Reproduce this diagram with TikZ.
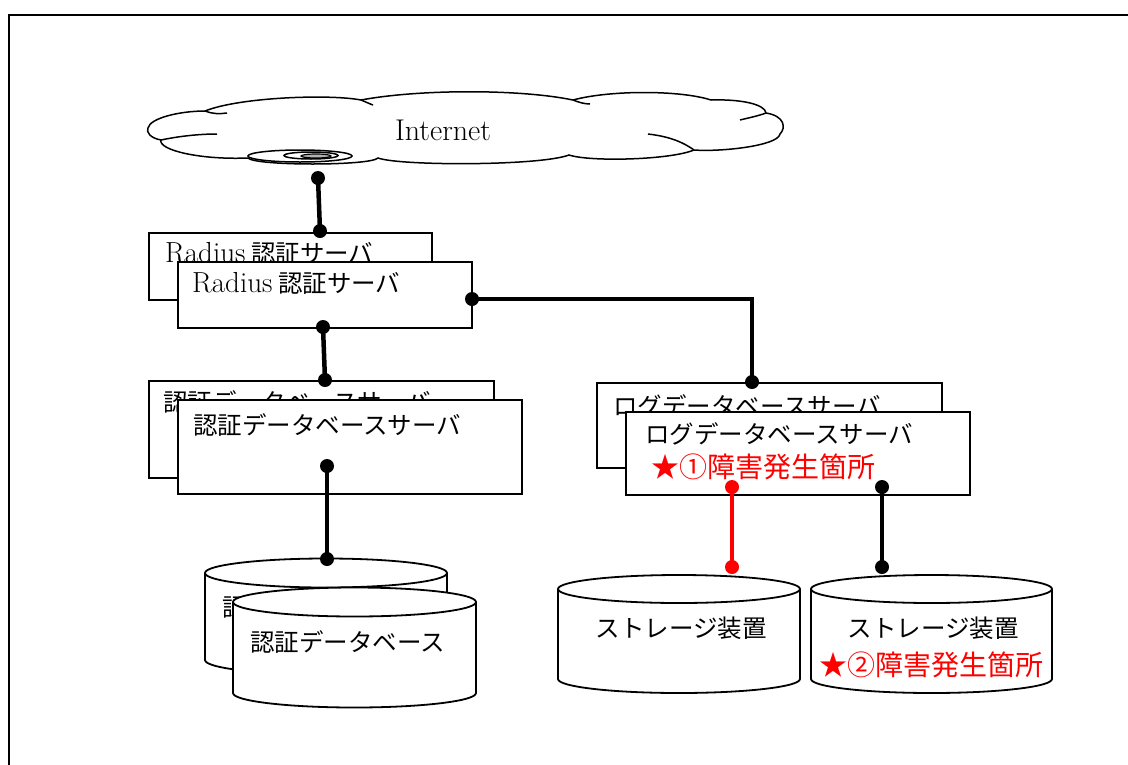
\documentclass[tikz,border=0pt]{standalone}
\usepackage{fontspec}
\newfontfamily\jp{Noto Sans CJK JP}
\begin{document}
\begin{tikzpicture}[x=1pt,y=-1pt,
  box/.style={draw, line width=2pt, fill=white, rectangle, anchor=north west, inner sep=0pt},
  conn/.style={line width=4.5pt, line join=miter},
  dot/.style={circle, fill, inner sep=0pt, minimum size=14pt},
  lbl/.style={anchor=west, inner sep=0pt, font=\fontsize{24.5}{28}\selectfont\jp},
  tight/.style={text height=0.86em, text depth=0.12em},
  redlbl/.style={anchor=west, inner sep=0pt, text=red, font=\fontsize{28}{32}\selectfont\jp},
  cyl/.style={line width=1.8pt, fill=white},
  cloudline/.style={line width=1.5pt}]
\useasboundingbox (0,0) rectangle (1128,764);
\clip (0,0) rectangle (1128,764);
\newcommand{\dbcyl}[5]{%
  \filldraw[cyl] (#1,#3) -- (#1,#4) arc[start angle=180,end angle=0,x radius={(#2-#1)/2},y radius=#5] -- (#2,#3) arc[start angle=0,end angle=-180,x radius={(#2-#1)/2},y radius=#5] -- cycle;
  \draw[cyl] (#1,#3) arc[start angle=180,end angle=0,x radius={(#2-#1)/2},y radius=#5];}
% frame
\draw[line width=2.8pt] (9,800) -- (9,15) -- (1140,15);
% cloud
\draw[cloudline, fill=white] (148,128)
  .. controls (150,118) and (180,111) .. (205,111)
  .. controls (240,97) and (330,94) .. (361,100)
  .. controls (420,89) and (520,89) .. (573,100)
  .. controls (610,90) and (680,90) .. (711,100)
  .. controls (740,99) and (765,104) .. (766,113)
  .. controls (785,116) and (786,128) .. (780,134)
  .. controls (778,146) and (720,152) .. (694,150)
  .. controls (670,160) and (590,162) .. (569,155)
  .. controls (540,166) and (400,166) .. (378,158)
  .. controls (370,166) and (255,166) .. (248,158)
  .. controls (200,160) and (158,150) .. (161,140)
  .. controls (150,138) and (146,132) .. (148,128) -- cycle;
\draw[cloudline] (161,140) .. controls (180,136) and (200,134) .. (217,134);
\draw[cloudline] (205,111) .. controls (212,114) and (220,114) .. (227,113);
\draw[cloudline] (361,100) .. controls (366,102) and (370,104) .. (373,105);
\draw[cloudline] (573,100) .. controls (578,102) and (584,104) .. (590,104);
\draw[cloudline] (694,150) .. controls (680,140) and (665,136) .. (648,134);
\draw[cloudline] (766,113) .. controls (758,116) and (748,118) .. (740,120);
\node[inner sep=0pt, font=\fontsize{30}{34}\selectfont] (inet) at (443,130) {Internet};
% disk icon in cloud
\draw[cloudline, fill=white] (300,156) ellipse[x radius=52, y radius=6];
\draw[cloudline] (311,155.5) ellipse[x radius=27, y radius=3.5];
\draw[line width=1.2pt, fill=gray!60] (316,156) ellipse[x radius=15, y radius=2];
% Radius servers
\node[box, minimum width=283pt, minimum height=67pt] (radB) at (148,232) {};
\node[lbl] (radBt) at (165,253) {{\rmfamily\fontsize{29}{32}\selectfont Radius} 認証サーバ};
\node[box, minimum width=294pt, minimum height=66pt] (radF) at (177,261) {};
\node[lbl] (radFt) at (192,283) {{\rmfamily\fontsize{29}{32}\selectfont Radius} 認証サーバ};
% auth DB servers
\node[box, minimum width=345pt, minimum height=97pt] (ausB) at (148,380) {};
\node[lbl, tight] (ausBt) at (163,408) {認証データベースサーバ};
\node[box, minimum width=344pt, minimum height=94pt] (ausF) at (177,399) {};
\node[lbl, tight] (ausFt) at (193,431) {認証データベースサーバ};
% log DB servers
\node[box, minimum width=345pt, minimum height=85pt] (logB) at (596,382) {};
\node[lbl] (logBt) at (613,406) {ログデータベースサーバ};
\node[box, minimum width=344pt, minimum height=83pt] (logF) at (625,411) {};
\node[lbl] (logFt) at (645,434) {ログデータベースサーバ};
\node[redlbl] (fail1) at (651,467) {★①障害発生箇所};
% auth DB cylinders
\dbcyl{205}{447}{573}{660}{14.5}
\node[lbl] (adbB) at (222,607) {認証データベース};
\dbcyl{233}{476}{602}{693}{14.5}
\node[lbl] (adbF) at (250,642) {認証データベース};
% storage cylinders
\dbcyl{558}{800}{589}{679}{14}
\node[lbl, anchor=center] (st1) at (681,628) {ストレージ装置};
\dbcyl{811}{1052}{589}{679}{14}
\node[lbl, anchor=center] (st2) at (933,628) {ストレージ装置};
\node[redlbl, anchor=center] (fail2) at (931,665) {★②障害発生箇所};
% connector dots
\node[dot] (d1) at (318,178) {};
\node[dot] (d2) at (320,231) {};
\node[dot] (d3) at (323,327) {};
\node[dot] (d4) at (325,380) {};
\node[dot] (d5) at (472,299) {};
\node[dot] (d6) at (752,382) {};
\node[dot] (d7) at (327,466) {};
\node[dot] (d8) at (327,559) {};
\node[dot, fill=red] (d9) at (732,487) {};
\node[dot, fill=red] (d10) at (732,567) {};
\node[dot] (d11) at (882,487) {};
\node[dot] (d12) at (882,567) {};
% connectors
\draw[conn] (d1.center) -- (d2.center);
\draw[conn] (d3.center) -- (d4.center);
\draw[conn] (d5.center) -| (d6.center);
\draw[conn] (d7.center) -- (d8.center);
\draw[conn, red] (d9.center) -- (d10.center);
\draw[conn] (d11.center) -- (d12.center);
\end{tikzpicture}
\end{document}
